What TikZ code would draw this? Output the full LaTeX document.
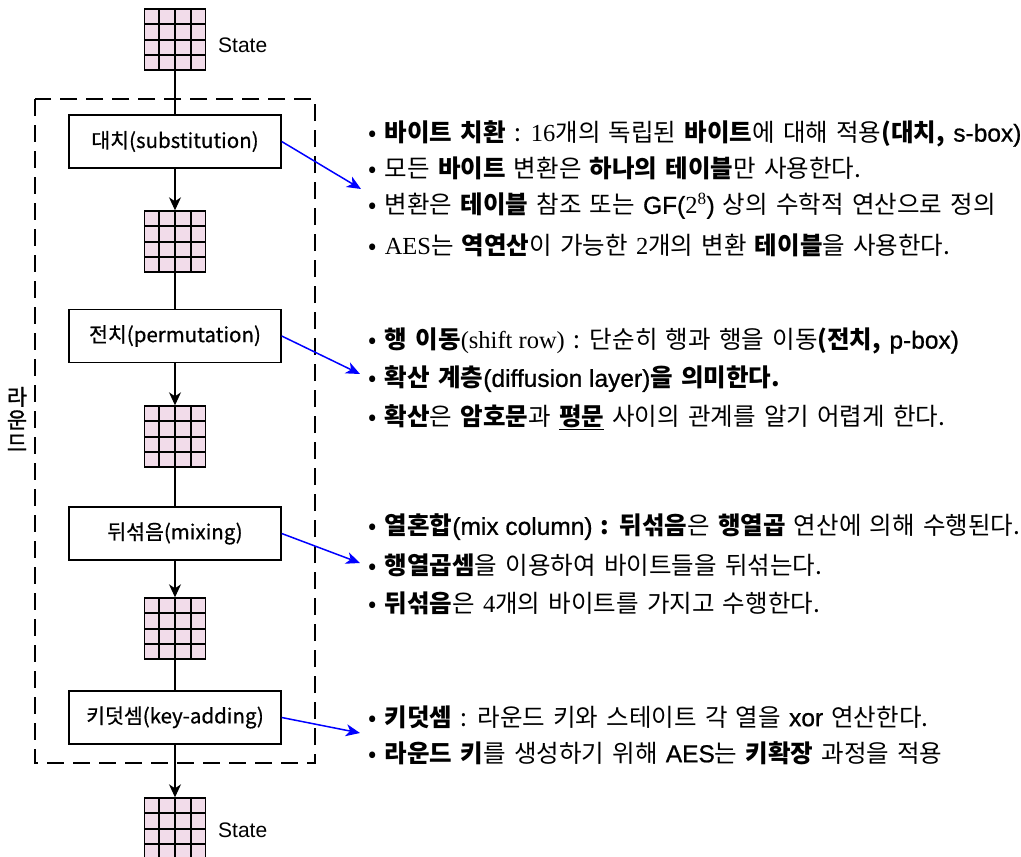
\documentclass[tikz,border=0pt]{standalone}
\usepackage{fontspec}
\setmainfont{Liberation Sans}
\newfontfamily\kr{Noto Sans CJK KR}[WordSpace=1.5]
\newfontfamily\krm{Noto Sans CJK KR}[FakeBold=0.6]
\newfontfamily\krb{Noto Sans CJK KR}[FakeBold=1.2]
\newfontfamily\tm{Liberation Serif}
\newfontfamily\ar{Liberation Sans}[FakeBold=0.8]
\usetikzlibrary{arrows.meta,calc}
\definecolor{cellpink}{HTML}{F2DCEA}
\newcommand{\gridcells}[1]{%
  \foreach \i in {1,2,3}{%
    \draw[line width=2pt] ($(#1.north west)!\i/4!(#1.north east)$) -- ($(#1.south west)!\i/4!(#1.south east)$);
    \draw[line width=2pt] ($(#1.north west)!\i/4!(#1.south west)$) -- ($(#1.north east)!\i/4!(#1.south east)$);
  }}
\tikzset{
  statebox/.style={rectangle,draw,line width=1.4pt,fill=cellpink,minimum width=61pt,minimum height=61pt,inner sep=0pt},
  stepbox/.style={rectangle,draw,line width=1.4pt,fill=white,minimum width=212pt,minimum height=53pt,inner sep=0pt,font=\krm\fontsize{20.5}{22}\selectfont},
  flow/.style={line width=1.2pt},
  flowarrow/.style={line width=1.2pt,-{Stealth[length=13pt,width=12pt,inset=4pt]}},
  bluearrow/.style={blue,line width=1.5pt,-{Stealth[length=14pt,width=12pt,inset=4pt]}},
  desc/.style={anchor=west,inner sep=0pt,font=\kr\fontsize{24.5}{26}\selectfont},
  statelabel/.style={anchor=west,inner sep=0pt,font=\fontsize{21}{23}\selectfont}
}
\begin{document}
\begin{tikzpicture}[x=1pt,y=-1pt]
\useasboundingbox (0,0) rectangle (1021,857);
% round frame
\draw[line width=2.2pt,dash pattern=on 17pt off 9pt] (35,99) rectangle (315,763);
\node[font=\krb\fontsize{22}{23}\selectfont,align=center,inner sep=0pt] (roundlbl) at (17,419) {라\\운\\드};
% states
\node[statebox] (g0) at (175,39.5) {};
\node[statebox] (g1) at (175,241.5) {};
\node[statebox] (g2) at (175,436.5) {};
\node[statebox] (g3) at (175,628.5) {};
\node[statebox] (g4) at (175,828.5) {};
\gridcells{g0}\gridcells{g1}\gridcells{g2}\gridcells{g3}\gridcells{g4}
\node[statelabel] (s0) at (218,45) {State};
\node[statelabel] (s4) at (218,830) {State};
% steps
\node[stepbox] (b1) at (175,141.5) {대치(substitution)};
\node[stepbox] (b2) at (175,336) {전치(permutation)};
\node[stepbox] (b3) at (175,533.5) {뒤섞음(mixing)};
\node[stepbox] (b4) at (175,717.5) {키덧셈(key-adding)};
% connectors
\draw[flow] (g0) -- (b1);
\draw[flowarrow] (b1) -- (g1);
\draw[flow] (g1) -- (b2);
\draw[flowarrow] (b2) -- (g2);
\draw[flow] (g2) -- (b3);
\draw[flowarrow] (b3) -- (g3);
\draw[flow] (g3) -- (b4);
\draw[flowarrow] (b4) -- (g4);
% blue arrows
\coordinate (t1) at (361,189);
\coordinate (t2) at (360,374);
\coordinate (t3) at (360,563);
\coordinate (t4) at (360,733);
\draw[bluearrow] (b1.east) -- (t1);
\draw[bluearrow] (b2.east) -- (t2);
\draw[bluearrow] (b3.east) -- (t3);
\draw[bluearrow] (b4.east) -- (t4);
% descriptions
\node[desc] (d11) at (368,134) {• {\bfseries 바이트 치환} : {\tm 16}개의 독립된 {\bfseries 바이트}에 대해 적용{\bfseries (대치, }{\ar s-box)}};
\node[desc] (d12) at (368,168) {• 모든 {\bfseries 바이트} 변환은 {\bfseries 하나의 테이블}만 사용한다.};
\node[desc] (d13) at (368,206) {• 변환은 {\bfseries 테이블} 참조 또는 {\ar GF(}{\tm 2\textsuperscript{8}}{\ar )} 상의 수학적 연산으로 정의};
\node[desc] (d14) at (368,245) {• {\tm AES}는 {\bfseries 역연산}이 가능한 {\tm 2}개의 변환 {\bfseries 테이블}을 사용한다.};
\node[desc] (d21) at (368,341) {• {\bfseries 행 이동}{\tm (shift row)} : 단순히 행과 행을 이동{\bfseries (전치, }{\ar p-box)}};
\node[desc] (d22) at (368,379) {• {\bfseries 확산 계층}{\ar (diffusion layer)}{\bfseries 을 의미한다.}};
\node[desc] (d23) at (368,417) {• {\bfseries 확산}은 {\bfseries 암호문}과 {\bfseries \underline{평문}} 사이의 관계를 알기 어렵게 한다.};
\node[desc] (d31) at (368,527) {• {\bfseries 열혼합}{\ar (mix column)} {\bfseries : 뒤섞음}은 {\bfseries 행열곱} 연산에 의해 수행된다.};
\node[desc] (d32) at (368,565) {• {\bfseries 행열곱셈}을 이용하여 바이트들을 뒤섞는다.};
\node[desc] (d33) at (368,603) {• {\bfseries 뒤섞음}은 {\tm 4}개의 바이트를 가지고 수행한다.};
\node[desc] (d41) at (368,717) {• {\bfseries 키덧셈} : 라운드 키와 스테이트 각 열을 {\ar xor} 연산한다.};
\node[desc] (d42) at (368,753) {• {\bfseries 라운드 키}를 생성하기 위해 {\ar AES}는 {\bfseries 키확장} 과정을 적용};
\end{tikzpicture}
\end{document}
